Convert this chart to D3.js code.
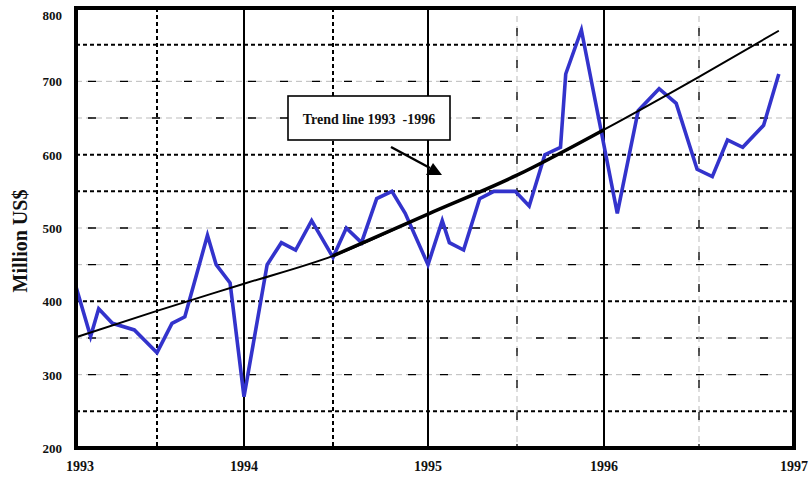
<!DOCTYPE html>
<html>
<head>
<meta charset="utf-8">
<script src="https://d3js.org/d3.v7.min.js"></script>
<style>
  body { margin: 0; background: #fff; }
  text { font-family: "Liberation Serif", "Times New Roman", serif; font-weight: bold; fill: #111; }
</style>
</head>
<body>
<svg width="811" height="478"></svg>
<script>
// sales, million US$
const dates = [1993.0, 1993.09, 1993.14, 1993.225, 1993.36, 1993.5, 1993.586, 1993.66, 1993.79, 1993.84, 1993.92, 1994.0,
               1994.13, 1994.21, 1994.29, 1994.38, 1994.5, 1994.57, 1994.65, 1994.73, 1994.81, 1994.88, 1995.0,
               1995.08, 1995.12, 1995.2, 1995.29, 1995.37, 1995.49, 1995.57, 1995.66, 1995.75, 1995.78, 1995.87,
               1996.07, 1996.18, 1996.29, 1996.38, 1996.49, 1996.57, 1996.65, 1996.73, 1996.84, 1996.92];
const values = [420, 352, 390, 370, 361, 330, 370, 379, 490, 450, 425, 270,
                450, 480, 470, 510, 460, 500, 480, 540, 550, 520, 450,
                510, 480, 470, 540, 550, 550, 530, 600, 610, 710, 770,
                520, 660, 690, 670, 580, 570, 620, 610, 640, 710];

// trend line 1993-1996
const trendDates = [1993, 1993.5, 1994, 1994.5, 1995, 1995.5, 1996, 1996.5, 1996.92];
const trendValues = [351, 387, 424, 462, 519, 572, 634, 706, 769];

const xTicks = [1993, 1994, 1995, 1996, 1997];
const yTicks = [200, 300, 400, 500, 600, 700, 800];
const yGridDark = [250, 400, 550, 600, 750];
const yGridLight = [300, 350, 450, 500, 650, 700];
const xGridSolid = [1994, 1995, 1996];
const xGridDark = [1993.5, 1994.5];
const xGridLight = [1995.5, 1996.5];

const svg = d3.select('svg');
const margin = { top: 8, left: 76, right: 17, bottom: 30 };
const width = 811 - margin.left - margin.right;
const height = 478 - margin.top - margin.bottom;

// the half-year grid in the original is not evenly spaced
const xScale = d3.scaleLinear()
    .domain([1993, 1993.5, 1994, 1994.5, 1995, 1995.5, 1996, 1996.5, 1997])
    .range([0, 81, 168, 257, 352, 441, 528, 623, width]);
const yScale = d3.scaleLinear().domain([200, 800]).range([height, 0]);

const g = svg.append('g').attr('transform', 'translate(' + margin.left + ',' + margin.top + ')');

// horizontal grid
g.selectAll('.hg-light').data(yGridLight).enter().append('line')
    .attr('x1', 0).attr('x2', width)
    .attr('y1', d => yScale(d)).attr('y2', d => yScale(d))
    .style('stroke', '#bbb').style('stroke-width', 1).style('stroke-dasharray', '6,4');
g.selectAll('.hg-light2').data(yGridLight).enter().append('line')
    .attr('x1', 0).attr('x2', width)
    .attr('y1', d => yScale(d)).attr('y2', d => yScale(d))
    .style('stroke', '#000').style('stroke-width', 1.3).style('stroke-dasharray', '8,24')
    .style('stroke-dashoffset', -12);
g.selectAll('.hg-dark').data(yGridDark).enter().append('line')
    .attr('x1', 0).attr('x2', width)
    .attr('y1', d => yScale(d)).attr('y2', d => yScale(d))
    .style('stroke', '#000').style('stroke-width', 2).style('stroke-dasharray', '4,3');

// vertical grid
g.selectAll('.vg-light').data(xGridLight).enter().append('line')
    .attr('x1', d => xScale(d)).attr('x2', d => xScale(d))
    .attr('y1', 8).attr('y2', height)
    .style('stroke', '#bbb').style('stroke-width', 1).style('stroke-dasharray', '6,4');
g.selectAll('.vg-light2').data(xGridLight).enter().append('line')
    .attr('x1', d => xScale(d)).attr('x2', d => xScale(d))
    .attr('y1', 8).attr('y2', height)
    .style('stroke', '#000').style('stroke-width', 1.3).style('stroke-dasharray', '8,24')
    .style('stroke-dashoffset', -12);
g.selectAll('.vg-dark').data(xGridDark).enter().append('line')
    .attr('x1', d => xScale(d)).attr('x2', d => xScale(d))
    .attr('y1', 0).attr('y2', height)
    .style('stroke', '#000').style('stroke-width', 2).style('stroke-dasharray', '4,3');
g.selectAll('.vg-solid').data(xGridSolid).enter().append('line')
    .attr('x1', d => xScale(d)).attr('x2', d => xScale(d))
    .attr('y1', 0).attr('y2', height)
    .style('stroke', '#000').style('stroke-width', 2);

// data line
const data = dates.map((d, i) => ({ t: d, v: values[i] }));
const line = d3.line().x(d => xScale(d.t)).y(d => yScale(d.v));
g.append('path').datum(data)
    .attr('d', line)
    .style('fill', 'none').style('stroke', '#3333cc').style('stroke-width', 3.6)
    .style('stroke-linejoin', 'miter');

// trend line
const trend = trendDates.map((d, i) => ({ t: d, v: trendValues[i] }));
const trendLine = d3.line().x(d => xScale(d.t)).y(d => yScale(d.v)).curve(d3.curveMonotoneX);
g.append('path').datum(trend)
    .attr('d', trendLine)
    .style('fill', 'none').style('stroke', '#000').style('stroke-width', 2);
g.append('path').datum(trend.filter(d => d.t >= 1994.5 && d.t <= 1996))
    .attr('d', trendLine)
    .style('fill', 'none').style('stroke', '#000').style('stroke-width', 3.5);

// frame
g.append('rect')
    .attr('x', 0).attr('y', 0).attr('width', width).attr('height', height)
    .style('fill', 'none').style('stroke', '#000').style('stroke-width', 4);

// tick labels
g.selectAll('.ylab').data(yTicks).enter().append('text')
    .attr('x', -14)
    .attr('y', d => Math.max(yScale(d), 7) + 5)
    .style('text-anchor', 'end').style('font-size', '13px')
    .text(d => d);
g.selectAll('.xlab').data(xTicks).enter().append('text')
    .attr('x', d => xScale(d) + (d === 1993 ? 4 : 0))
    .attr('y', height + 23)
    .style('text-anchor', 'middle').style('font-size', '14px')
    .text(d => d);

// axis title
svg.append('text')
    .attr('transform', 'translate(27,241) rotate(-90)')
    .style('text-anchor', 'middle').style('font-size', '20px')
    .text('Million US$');

// annotation
const ann = g.append('g');
ann.append('rect')
    .attr('x', 212).attr('y', 88).attr('width', 162).attr('height', 44)
    .style('fill', '#fff').style('stroke', '#000').style('stroke-width', 1.6);
ann.append('text')
    .attr('x', 293).attr('y', 116)
    .attr('xml:space', 'preserve')
    .style('text-anchor', 'middle').style('font-size', '14px')
    .text('Trend line 1993  -1996');
ann.append('line')
    .attr('x1', 315).attr('y1', 139).attr('x2', 354).attr('y2', 160)
    .style('stroke', '#000').style('stroke-width', 2.5);
ann.append('polygon')
    .attr('points', '350,167 366,167 357,155')
    .style('fill', '#000');
</script>
</body>
</html>
